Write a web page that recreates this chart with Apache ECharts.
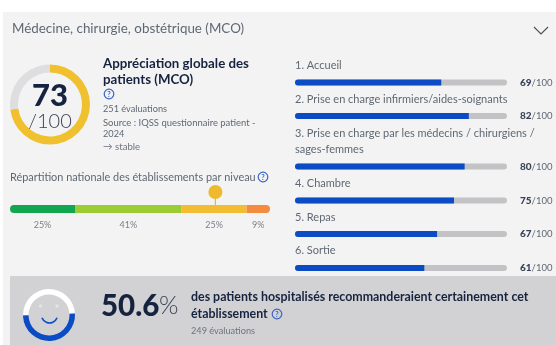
<!DOCTYPE html>
<html><head><meta charset="utf-8">
<style>html,body{margin:0;padding:0;background:#fff}#c{width:556px;height:345px;filter:blur(0.45px)}</style>
<script src="https://cdn.jsdelivr.net/npm/echarts@6/dist/echarts.min.js"></script>
</head><body><div id="c"></div>
<script>
const headerTitle = 'Médecine, chirurgie, obstétrique (MCO)';
const globalScore = 73;
const globalMax = 100;
const globalTitle = ['Appréciation globale des', 'patients (MCO)'];
const globalNotes = ['251 évaluations', 'Source : IQSS questionnaire patient -', '2024'];
const distLabel = 'Répartition nationale des établissements par niveau';
const distValues = [25, 41, 25, 9];
const distColors = ['#12a650', '#9ccb33', '#f2bd30', '#f58b3c'];
const pinValue = 79;
const itemLabels = [['1. Accueil'], ['2. Prise en charge infirmiers/aides-soignants'],
  ['3. Prise en charge par les médecins / chirurgiens /', 'sages-femmes'], ['4. Chambre'], ['5. Repas'], ['6. Sortie']];
const itemValues = [69, 82, 80, 75, 67, 61];
const recommendValue = 50.6;
const recommendText = ['des patients hospitalisés recommanderaient certainement cet', 'établissement'];
const recommendNote = '249 évaluations';

const FONT = 'Lato, "Open Sans", sans-serif';
const NAVY = '#16233f', GREY = '#5f6872', BLUE = '#0b4cc4';
const barTops = [79.5, 113, 163.5, 197.5, 231, 265];
const labelYs = [[65], [99], [133, 149.5], [183.5], [217], [250.5]];

const txt = (x, y, text, size, fill, extra) => ({type:'text', x, y, silent:true, z:20,
  style:Object.assign({text, font:`${(extra&&extra.weight)||400} ${size}px ${FONT}`, fill, textVerticalAlign:'middle', textAlign:(extra&&extra.align)||'left'})});
const help = (x, y) => ([
  {type:'circle', shape:{cx:x, cy:y, r:4.8}, style:{fill:'none', stroke:'#3a63c8', lineWidth:1.2}, z:20},
  {type:'text', x, y:y+0.3, z:21, style:{text:'?', font:`700 7.5px ${FONT}`, fill:'#3a63c8', textAlign:'center', textVerticalAlign:'middle'}}
]);

const graphic = [
  {type:'rect', shape:{x:3, y:12, width:553, height:333}, style:{fill:'#f3f3f4'}, z:-10},
  {type:'rect', shape:{x:10, y:276, width:546, height:69}, style:{fill:'#d2d2d4'}, z:-9},
  txt(12, 29, headerTitle, 13.4, GREY),
  {type:'polyline', shape:{points:[[534,27],[541,34],[548,27]]}, style:{fill:'none', stroke:'#4a525c', lineWidth:1.2}, z:20},
  txt(50, 96, String(globalScore), 31, NAVY, {weight:900, align:'center'}),
  txt(50, 122, '/' + globalMax, 20, '#3a4356', {weight:300, align:'center'}),
  txt(103, 64, globalTitle[0], 13.3, NAVY, {weight:700}),
  txt(103, 80, globalTitle[1], 13.3, NAVY, {weight:700}),
  ...help(109, 94),
  txt(103, 109, globalNotes[0], 9.2, GREY),
  txt(103, 123, globalNotes[1], 9.45, GREY),
  txt(103, 134, globalNotes[2], 9.2, GREY),
  txt(103, 147, '→ stable', 9.6, '#6d747c'),
  txt(10, 177, distLabel, 10.9, GREY),
  ...help(263, 177),
  txt(101, 306, String(recommendValue), 29.5, NAVY, {weight:900}),
  txt(159, 306, '%', 25, '#3a4356', {weight:300}),
  txt(191, 297, recommendText[0], 12.4, NAVY, {weight:700}),
  txt(191, 314, recommendText[1], 12.4, NAVY, {weight:700}),
  ...help(277, 314),
  txt(191, 331, recommendNote, 9.2, '#6d747c'),
  {type:'circle', shape:{cx:40.5, cy:306, r:1.7}, style:{fill:'#e4e4e8'}, z:20},
  {type:'circle', shape:{cx:57, cy:306, r:1.7}, style:{fill:'#e4e4e8'}, z:20},
  {type:'arc', shape:{cx:49.5, cy:315, r:8, startAngle:0.35, endAngle:2.8, clockwise:true}, style:{fill:'none', stroke:BLUE, lineWidth:1.6}, z:20}
];
itemLabels.forEach((lines, i) => lines.forEach((l, j) => graphic.push(txt(295, labelYs[i][j], l, 11, GREY))));

const grid = [], xAxis = [], yAxis = [], series = [];
const addAxes = (g, xMax, yOpt) => {
  const idx = grid.push(g) - 1;
  xAxis.push({type:'value', gridIndex:idx, min:0, max:xMax, show:false});
  yAxis.push(Object.assign({gridIndex:idx, show:false}, yOpt));
  return idx;
};

// Sub-score bars
itemValues.forEach((v, i) => {
  const idx = addAxes({left:295, width:212, top:barTops[i], height:6}, 100, {type:'category', data:[itemLabels[i][0]]});
  series.push({type:'bar', xAxisIndex:idx, yAxisIndex:idx, data:[globalMax], barWidth:6, barGap:'-100%', silent:true,
    itemStyle:{color:'#c3c3c5', borderRadius:3},
    label:{show:true, position:'right', distance:13, formatter:() => `{b|${v}}{n|/${globalMax}}`,
      rich:{b:{fontFamily:FONT, fontSize:10, fontWeight:900, color:'#3a4356'}, n:{fontFamily:FONT, fontSize:9.5, fontWeight:400, color:GREY}}}});
  series.push({type:'bar', xAxisIndex:idx, yAxisIndex:idx, data:[v], barWidth:6, barGap:'-100%', silent:true,
    itemStyle:{color:BLUE, borderRadius:[3,0,0,3]}});
});

// National distribution
const d = addAxes({left:10, width:260, top:205, height:8}, 100, {type:'category', data:['niveau']});
distValues.forEach((v, i) => series.push({type:'bar', stack:'dist', xAxisIndex:d, yAxisIndex:d, data:[v], barWidth:8, silent:true,
  itemStyle:{color:distColors[i], borderRadius: i===0 ? [4,0,0,4] : i===distValues.length-1 ? [0,4,4,0] : 0},
  label:{show:true, position:'bottom', distance:8, formatter:`${v}%`, fontFamily:FONT, fontSize:9, color:'#7a7f86'}}));

// Pin
const p = addAxes({left:10, width:260, top:192, height:13}, 100, {type:'value', min:0, max:1});
series.push({type:'line', xAxisIndex:p, yAxisIndex:p, data:[[pinValue,0],[pinValue,1]], silent:true, showSymbol:true,
  symbol:(val, params) => params.dataIndex===1 ? 'circle' : 'none', symbolSize:14,
  lineStyle:{color:'#eeb92c', width:1.2}, itemStyle:{color:'#eeb92c'}, z:5});

// Rings
series.push({type:'pie', center:[50,104.5], radius:[32,40], startAngle:90, silent:true, label:{show:false}, labelLine:{show:false},
  data:[{value:globalScore, itemStyle:{color:'#f0c02e'}}, {value:globalMax-globalScore, itemStyle:{color:'#dedee0'}}]});
series.push({type:'pie', center:[49,315], radius:[20.5,26], startAngle:181, silent:true, label:{show:false}, labelLine:{show:false},
  data:[{value:100-recommendValue, itemStyle:{color:'#ffffff'}}, {value:recommendValue, itemStyle:{color:BLUE}}]});

const chart = echarts.init(document.getElementById('c'), null, {renderer:'canvas'});
chart.setOption({animation:false, grid, xAxis, yAxis, series, graphic});
</script></body></html>
